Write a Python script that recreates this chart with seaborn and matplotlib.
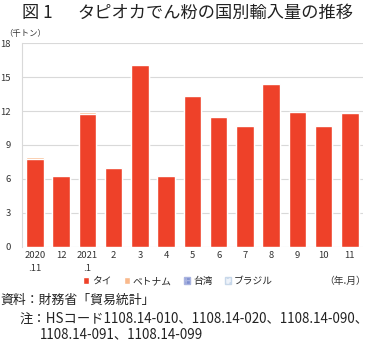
import matplotlib
matplotlib.use("Agg")
import matplotlib.pyplot as plt
import seaborn as sns
import pandas as pd
import numpy as np
from matplotlib.patches import Patch

months = ["2020\n.11", "12", "2021\n.1", "2", "3", "4", "5", "6", "7", "8", "9", "10", "11"]
thai = [7.75, 6.25, 11.7, 6.93, 16.05, 6.25, 13.36, 11.48, 10.65, 14.37, 11.92, 10.72, 11.85]
vietnam = [0.15, 0.0, 0.25, 0.0, 0.08, 0.0, 0.0, 0.0, 0.08, 0.0, 0.0, 0.08, 0.08]
taiwan = [0.0] * 13
brazil = [0.0] * 13
yticks = [0, 3, 6, 9, 12, 15, 18]

sns.set_style("white")
plt.rcParams['font.family'] = ['Noto Sans CJK JP', 'DejaVu Sans']

df = pd.DataFrame({"month": months, "thai": thai, "vietnam": vietnam,
                   "taiwan": taiwan, "brazil": brazil})
df["tv"] = df["thai"] + df["vietnam"]

fig = plt.figure(figsize=(3.7, 3.41), dpi=100)
ax = fig.add_axes([0.059, 0.277, 0.922, 0.596])

red = "#EE4129"
orange = "#F9B98C"
sns.barplot(data=df, x="month", y="tv", color=orange, width=0.67, ax=ax, saturation=1)
sns.barplot(data=df, x="month", y="thai", color=red, width=0.67, ax=ax, saturation=1)

ax.set_ylim(0, 18)
ax.set_xlim(-0.5, 12.5)
ax.set_yticks(yticks)
ax.set_yticklabels([str(v) for v in yticks], fontsize=6.8, color="#333333")
ax.tick_params(axis="x", labelsize=6.8, colors="#333333", length=0, pad=3)
ax.tick_params(axis="y", length=0, pad=8)
for lab in ax.get_xticklabels():
    lab.set_linespacing(1.6)
    lab.set_verticalalignment("top")
ax.set_xlabel("")
ax.set_ylabel("")
ax.grid(axis="y", color="#d9d9d9", linewidth=0.8)
ax.set_axisbelow(True)
for s in ["top", "right", "bottom"]:
    ax.spines[s].set_visible(False)
ax.spines["left"].set_color("#d9d9d9")
ax.spines["left"].set_linewidth(0.8)

fig.text(22 / 370, 0.962, "図 1", fontsize=12.4, va="center", ha="left",
         color="#222222", fontweight="normal")
fig.text(77 / 370, 0.962, "タピオカでん粉の国別輸入量の推移", fontsize=12.4,
         va="center", ha="left", color="#222222", fontweight="normal")
fig.text(0.012, 0.903, "（千トン）", fontsize=6, va="center", ha="left", color="#333333")

handles = [Patch(facecolor=red, label="タイ"),
           Patch(facecolor=orange, label="ベトナム"),
           Patch(facecolor="#7f8fd0", hatch="+++", edgecolor="#aab4e0", label="台湾"),
           Patch(facecolor="#eef3fa", hatch="...", edgecolor="#c8d8ea", label="ブラジル")]
fig.legend(handles=handles, loc="center", bbox_to_anchor=(178 / 370, 1 - 281 / 341), ncol=4,
           frameon=False, fontsize=7, handlelength=0.6, handleheight=0.6,
           handletextpad=0.3, columnspacing=1.3)
fig.text(0.988, 1 - 281 / 341, "（年.月）", fontsize=7, ha="right", va="center", color="#333333")

fig.text(0.0, 1 - 300 / 341, "資料：財務省「貿易統計」", fontsize=9.3, ha="left", va="center",
         color="#222222")
fig.text(20 / 370, 1 - 319 / 341, "注：HSコード1108.14-010、1108.14-020、1108.14-090、",
         fontsize=9.6, ha="left", va="center", color="#222222")
fig.text(40 / 370, 1 - 334 / 341, "1108.14-091、1108.14-099", fontsize=9.6, ha="left",
         va="center", color="#222222")

fig.savefig("out.png", dpi=100)
